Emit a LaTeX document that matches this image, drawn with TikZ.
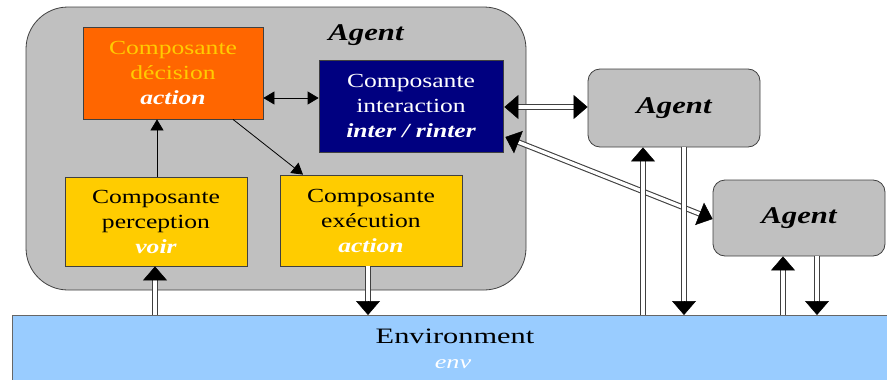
\documentclass[tikz,border=0pt]{standalone}
\usepackage{fontspec}
\setmainfont{Liberation Serif}
\newfontfamily\boxfont[FakeStretch=1.28]{Liberation Serif}
\newfontfamily\agentfont[FakeStretch=1.28]{Liberation Serif}
\newfontfamily\envfont[FakeStretch=1.38]{Liberation Serif}
\usetikzlibrary{arrows.meta,calc}
\definecolor{agentgray}{HTML}{C0C0C0}
\definecolor{decorange}{HTML}{FF6600}
\definecolor{internavy}{HTML}{000080}
\definecolor{compyellow}{HTML}{FFCC00}
\definecolor{envblue}{HTML}{99CCFF}
% double connector with a solid tip at its end
\newcommand{\dlinkone}[2]{%
  \draw[dline, shorten >=12pt] (#1) -- (#2);
  \draw[bigtip] ($(#2)!13pt!(#1)$) -- (#2);}
% double connector with solid tips at both ends
\newcommand{\dlinktwo}[2]{%
  \draw[dline, shorten >=12pt, shorten <=12pt] (#1) -- (#2);
  \draw[bigtip] ($(#2)!13pt!(#1)$) -- (#2);
  \draw[bigtip] ($(#1)!13pt!(#2)$) -- (#1);}
\begin{document}
\begin{tikzpicture}[x=1pt,y=-1pt,
  comp/.style={draw=black!75, line width=0.8pt, align=center, inner sep=0pt,
    font=\boxfont\fontsize{20}{25}\selectfont},
  agentbox/.style={draw=black!75, line width=0.8pt, fill=agentgray, rounded corners=12pt, inner sep=0pt},
  agentlbl/.style={font=\agentfont\fontsize{24}{26}\selectfont\bfseries\itshape},
  sarrow/.style={draw=black, line width=0.8pt},
  dline/.style={draw=black!75, double=white, line width=1.1pt, double distance=3.4pt},
  bigtip/.style={draw=black, line width=0.5pt, -{Triangle[length=14pt,width=24pt]}},
  tip/.style={-{Triangle[length=11pt,width=13pt]}},
  tiptwo/.style={{Triangle[length=11pt,width=13pt]}-{Triangle[length=11pt,width=13pt]}}]
\useasboundingbox (0,0) rectangle (887,380);

% environment band
\node[draw=black!60, line width=0.8pt, fill=envblue, minimum width=900pt, minimum height=70pt,
  anchor=north west, inner sep=0pt] (env) at (12,315) {};
\node[font=\envfont\fontsize{22}{24}\selectfont] (envlbl) at (455,336) {Environment};
\node[font=\envfont\fontsize{19}{20}\selectfont\itshape, text=white] (envsub) at (453,364) {env};

% main agent
\node[draw=black!75, line width=0.8pt, fill=agentgray, rounded corners=42pt,
  minimum width=500pt, minimum height=283pt, inner sep=0pt] (main) at (276,148.5) {};
\node[agentlbl] (mainlbl) at (366,35) {Agent};

% components
\node[comp, fill=decorange, minimum width=180pt, minimum height=92pt] (dec) at (173,73)
  {\textcolor{compyellow}{Composante}\\\textcolor{compyellow}{décision}\\\textcolor{white}{\bfseries\itshape action}};
\node[comp, fill=internavy, minimum width=184pt, minimum height=92pt] (inter) at (411,106)
  {\textcolor{white}{Composante}\\\textcolor{white}{interaction}\\\textcolor{white}{\bfseries\itshape inter / rinter}};
\node[comp, fill=compyellow, minimum width=182pt, minimum height=89pt] (perc) at (156,221.5)
  {Composante\\perception\\\textcolor{white}{\bfseries\itshape voir}};
\node[comp, fill=compyellow, minimum width=182pt, minimum height=91pt] (exec) at (371,220.5)
  {Composante\\exécution\\\textcolor{white}{\bfseries\itshape action}};

% other agents
\node[agentbox, minimum width=172pt, minimum height=78pt] (ag2) at (674,108) {};
\node[agentlbl] (ag2lbl) at (ag2) {Agent};
\node[agentbox, minimum width=172pt, minimum height=76pt] (ag3) at (799,218) {};
\node[agentlbl] (ag3lbl) at (ag3) {Agent};

% attachment points
\coordinate (decR) at ($(dec.east)+(0,25)$);
\coordinate (interL) at (inter.west |- decR);
\coordinate (decS) at ($(dec.south)+(60,0)$);
\coordinate (execN) at ($(exec.north)+(-68,0)$);
\coordinate (percN) at (perc.north -| 157,0);
\coordinate (decSl) at (dec.south -| 157,0);
\coordinate (envP) at (env.north -| 155,0);
\coordinate (percS) at (perc.south -| 155,0);
\coordinate (execS) at (exec.south -| 368,0);
\coordinate (envE) at (env.north -| 368,0);
\coordinate (interR) at ($(inter.east)+(1,1)$);
\coordinate (ag2W) at (ag2.west |- interR);
\coordinate (interRlow) at ($(inter.east)+(2,31)$);
\coordinate (ag3W) at ($(ag3.west)+(0,1)$);
\coordinate (envA) at (env.north -| 643,0);
\coordinate (ag2Sa) at (ag2.south -| 643,0);
\coordinate (ag2Sb) at (ag2.south -| 684,0);
\coordinate (envB) at (env.north -| 684,0);
\coordinate (envC) at (env.north -| 783,0);
\coordinate (ag3Sa) at (ag3.south -| 783,0);
\coordinate (ag3Sb) at (ag3.south -| 817,0);
\coordinate (envD) at (env.north -| 817,0);

% internal links
\draw[sarrow, tiptwo] (decR) -- (interL);
\draw[sarrow, tip] (percN) -- (decSl);
\draw[sarrow, tip] (decS) -- (execN);

% links to the environment
\dlinkone{envP}{percS}
\dlinkone{execS}{envE}

% links between agents
\dlinktwo{interR}{ag2W}
\dlinktwo{interRlow}{ag3W}

% agents and the environment
\dlinkone{envA}{ag2Sa}
\dlinkone{ag2Sb}{envB}
\dlinkone{envC}{ag3Sa}
\dlinkone{ag3Sb}{envD}
\end{tikzpicture}
\end{document}
